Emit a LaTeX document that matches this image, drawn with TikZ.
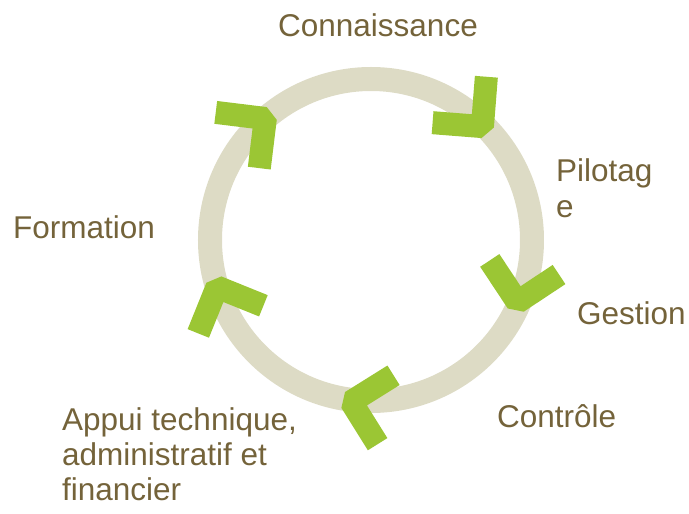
\documentclass[tikz,border=0pt]{standalone}
\usepackage{fontspec}
\setmainfont{Liberation Sans}
\usetikzlibrary{positioning}
\definecolor{ringgray}{RGB}{221,219,197}
\definecolor{chevgreen}{RGB}{155,198,52}
\definecolor{textbrown}{RGB}{116,99,58}
\tikzset{
    ring/.style={draw=ringgray, line width=24pt},
    chevron/.style={draw=chevgreen, line width=23pt, line join=bevel, line cap=butt},
    stage/.style={
        text=textbrown,
        font=\fontsize{31.5}{36}\selectfont,
        inner sep=0pt,
        align=left,
        anchor=base west
    }
}

\begin{document}
\begin{tikzpicture}[x=1pt,y=1pt]
	\useasboundingbox (-371,-274) rectangle (318,240);
	% ring
	\coordinate (c) at (0,0);
	\draw[ring] (c) circle (161);
	% chevrons: angle on ring / back direction / radius / name
	\foreach \a/\b/\r/\n in {131/218/161/tl, 45.5/130.5/159/tr, -23/78.5/159/rl, -97/-13/163/bt, -163/-67/161/ll} {
		\coordinate (v\n) at (\a:\r);
		\draw[chevron] ([shift={(\b-45:50)}]v\n) -- (v\n) -- ([shift={(\b+45:50)}]v\n);
	}
	% labels (base = last line)
	\node[stage, anchor=base] (conn) at (7,203) {Connaissance};
	\node[stage] (pil) at (185,22) {Pilotag\\e};
	\node[stage] (ges) at (206,-85) {Gestion};
	\node[stage] (ctl) at (126,-188) {Contrôle};
	\node[stage, font=\fontsize{31.5}{35}\selectfont] (app) at (-309,-260) {Appui technique,\\administratif et\\financier};
	\node[stage] (form) at (-358,1) {Formation};
\end{tikzpicture}
\end{document}
